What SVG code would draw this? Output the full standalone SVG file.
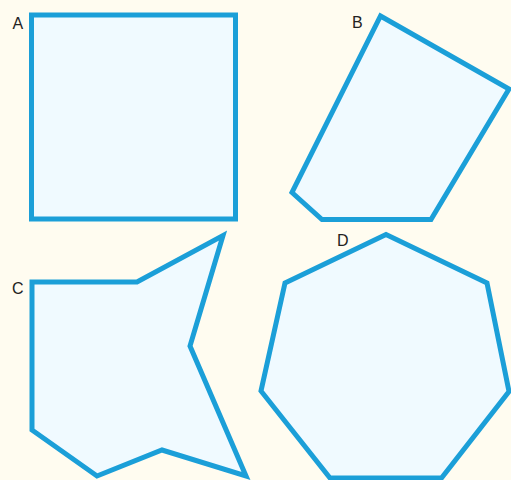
<svg xmlns="http://www.w3.org/2000/svg" width="511" height="480" viewBox="0 0 511 480">
<style>
.shape{fill:#f0faff;stroke:#1b9fd8;stroke-width:5;stroke-linejoin:miter}
.lbl{font-family:"Liberation Sans",Arial,sans-serif;font-size:16px;fill:#222}
</style>
<rect width="511" height="480" fill="#fffcf0"/>
<g id="A">
<rect class="shape" x="31.5" y="15" width="204" height="204"/>
<text class="lbl" x="12.5" y="28.5">A</text>
</g>
<g id="B">
<polygon class="shape" points="380.5,16 509,89 431,219.5 322,219.5 292,192.5"/>
<text class="lbl" x="352" y="27.5">B</text>
</g>
<g id="C">
<polygon class="shape" points="32,282 137,282 223,235.5 190,346 246,476 162,450 97,476 32,430"/>
<text class="lbl" x="12" y="294">C</text>
</g>
<g id="D">
<polygon class="shape" points="386,234.5 487,283 509,391.5 441.5,478 330,478 261,391 285,283"/>
<text class="lbl" x="337" y="246">D</text>
</g>
</svg>
